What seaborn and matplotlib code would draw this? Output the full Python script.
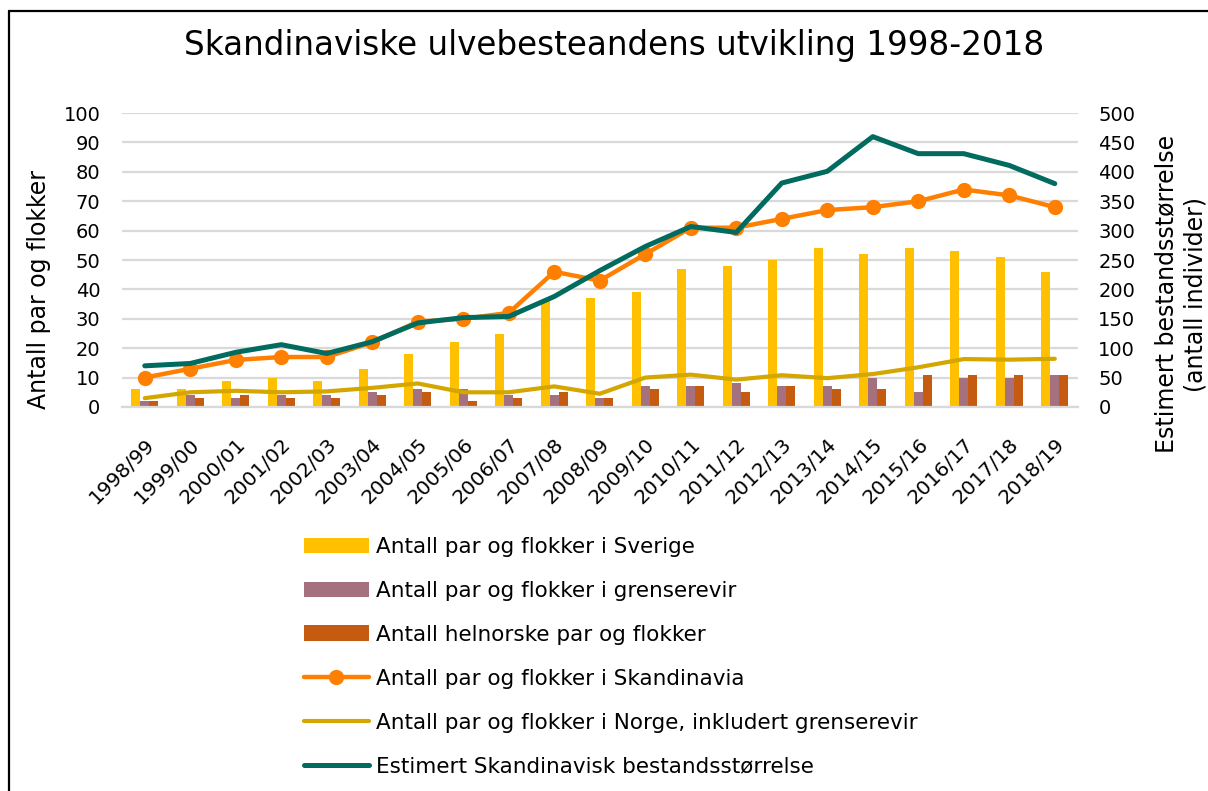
#!/usr/bin/env python3

import pandas as pd
import matplotlib
matplotlib.use('Agg')
import matplotlib.pyplot as plt
import seaborn as sns

# ------------------------------------------------------------------
# data
# ------------------------------------------------------------------
seasons = ['1998/99', '1999/00', '2000/01', '2001/02', '2002/03', '2003/04',
           '2004/05', '2005/06', '2006/07', '2007/08', '2008/09', '2009/10',
           '2010/11', '2011/12', '2012/13', '2013/14', '2014/15', '2015/16',
           '2016/17', '2017/18', '2018/19']
sverige = [6, 6, 9, 10, 9, 13, 18, 22, 25, 36, 37, 39, 47, 48, 50, 54, 52, 54, 53, 51, 46]
grenserevir = [2, 4, 3, 4, 4, 5, 6, 6, 4, 4, 3, 7, 7, 8, 7, 7, 10, 5, 10, 10, 11]
helnorske = [2, 3, 4, 3, 3, 4, 5, 2, 3, 5, 3, 6, 7, 5, 7, 6, 6, 11, 11, 11, 11]
skandinavia = [10, 13, 16, 17, 17, 22, 29, 30, 32, 46, 43, 52, 61, 61, 64, 67, 68, 70, 74, 72, 68]
norge = [3, 5, 5.5, 5, 5.3, 6.5, 8, 5, 5, 7, 4.5, 10, 11, 9.3, 10.8, 9.8, 11.2, 13.5, 16.3, 16.1, 16.4]
bestand = [70, 74, 93, 106, 91, 111, 143, 152, 154, 188, 232, 273, 307, 297, 381, 401, 460, 431, 431, 411, 380]

bar_names = ['Antall par og flokker i Sverige',
             'Antall par og flokker i grenserevir',
             'Antall helnorske par og flokker']
bar_colors = ['#FFC000', '#A5717F', '#C55A11']

FONT = 'DejaVu Sans'

sns.set_style('white')
plt.rcParams['font.family'] = [FONT]
plt.rcParams['text.color'] = 'black'
plt.rcParams['axes.labelcolor'] = 'black'

bars = pd.DataFrame({'Season': seasons * 3,
                     'Value': sverige + grenserevir + helnorske,
                     'Serie': [bar_names[0]] * len(seasons) + [bar_names[1]] * len(seasons)
                     + [bar_names[2]] * len(seasons)})

fig = plt.figure(figsize=(12.08, 7.91), dpi=100)
ax = fig.add_axes([0.101, 0.4855, 0.791, 0.3715])

sns.barplot(data=bars, x='Season', y='Value', hue='Serie', order=seasons,
            hue_order=bar_names, palette=bar_colors, width=0.6, gap=0,
            saturation=1, linewidth=0, edgecolor='none', ax=ax, zorder=2)
sns.lineplot(x=seasons, y=norge, color='#D4A600', linewidth=3.0, ax=ax,
             label='Antall par og flokker i Norge, inkludert grenserevir', zorder=3)
sns.lineplot(x=seasons, y=skandinavia, color='#FF7F00', linewidth=3.2, marker='o',
             markersize=11, markeredgewidth=0, ax=ax,
             label='Antall par og flokker i Skandinavia', zorder=4)

ax2 = ax.twinx()
sns.lineplot(x=seasons, y=bestand, color='#006B5E', linewidth=3.6, ax=ax2,
             label='Estimert Skandinavisk bestandsstørrelse', zorder=5)

ax.set_xlim(-0.5, len(seasons) - 0.5)
ax.set_ylim(0, 100)
ax.set_yticks(range(0, 101, 10))
ax2.set_ylim(0, 500)
ax2.set_yticks(range(0, 501, 50))

ax.yaxis.grid(True, color='#D9D9D9', linewidth=1.6, zorder=0)
ax.set_axisbelow(True)
for a in (ax, ax2):
    for s in a.spines.values():
        s.set_visible(False)
    a.tick_params(axis='both', length=0, labelsize=14, colors='black')
ax.spines['bottom'].set_visible(True)
ax.spines['bottom'].set_color('#D9D9D9')
ax.spines['bottom'].set_linewidth(1.6)

ax.set_xlabel('')
ax.set_ylabel('')
ax2.set_ylabel('')
ax.tick_params(axis='x', pad=20, labelsize=14.5)
ax.tick_params(axis='y', pad=15.5)
ax2.tick_params(axis='y', pad=15)
for t in ax.get_xticklabels():
    t.set_rotation(45)
    t.set_ha('right')
    t.set_va('top')
    t.set_rotation_mode('anchor')

fig.text(39 / 1208, 1 - 290 / 791, 'Antall par og flokker', rotation=90,
         ha='center', va='center', fontsize=17)
fig.text(1181 / 1208, 1 - 294 / 791, 'Estimert bestandsstørrelse\n(antall individer)',
         rotation=90, ha='center', va='center', multialignment='center',
         fontsize=17, linespacing=1.25)

# legend below the chart
h1, l1 = ax.get_legend_handles_labels()
h2, l2 = ax2.get_legend_handles_labels()
order = [l1.index(n) for n in bar_names]
order += [l1.index('Antall par og flokker i Skandinavia'),
          l1.index('Antall par og flokker i Norge, inkludert grenserevir')]
handles = [h1[i] for i in order] + h2
labels = [l1[i] for i in order] + l2
if ax.get_legend() is not None:
    ax.get_legend().remove()
if ax2.get_legend() is not None:
    ax2.get_legend().remove()
fig.legend(handles, labels, loc='upper left', bbox_to_anchor=(304 / 1208, 1 - 537 / 791),
           frameon=False, fontsize=15.5, handlelength=3.0, handleheight=0.75,
           labelspacing=1.11, handletextpad=0.33, borderaxespad=0, borderpad=0)

fig.text(614 / 1208, 1 - 46 / 791, 'Skandinaviske ulvebesteandens utvikling 1998-2018',
         ha='center', va='center', fontsize=23.5)

# chart frame (only top and left edge are inside the picture)
fig.add_artist(plt.Line2D([9 / 1208, 1.01], [1 - 11 / 791, 1 - 11 / 791],
                          transform=fig.transFigure, color='black', linewidth=1.6))
fig.add_artist(plt.Line2D([9 / 1208, 9 / 1208], [-0.01, 1 - 11 / 791],
                          transform=fig.transFigure, color='black', linewidth=1.6))

plt.savefig('out.png', dpi=100)
